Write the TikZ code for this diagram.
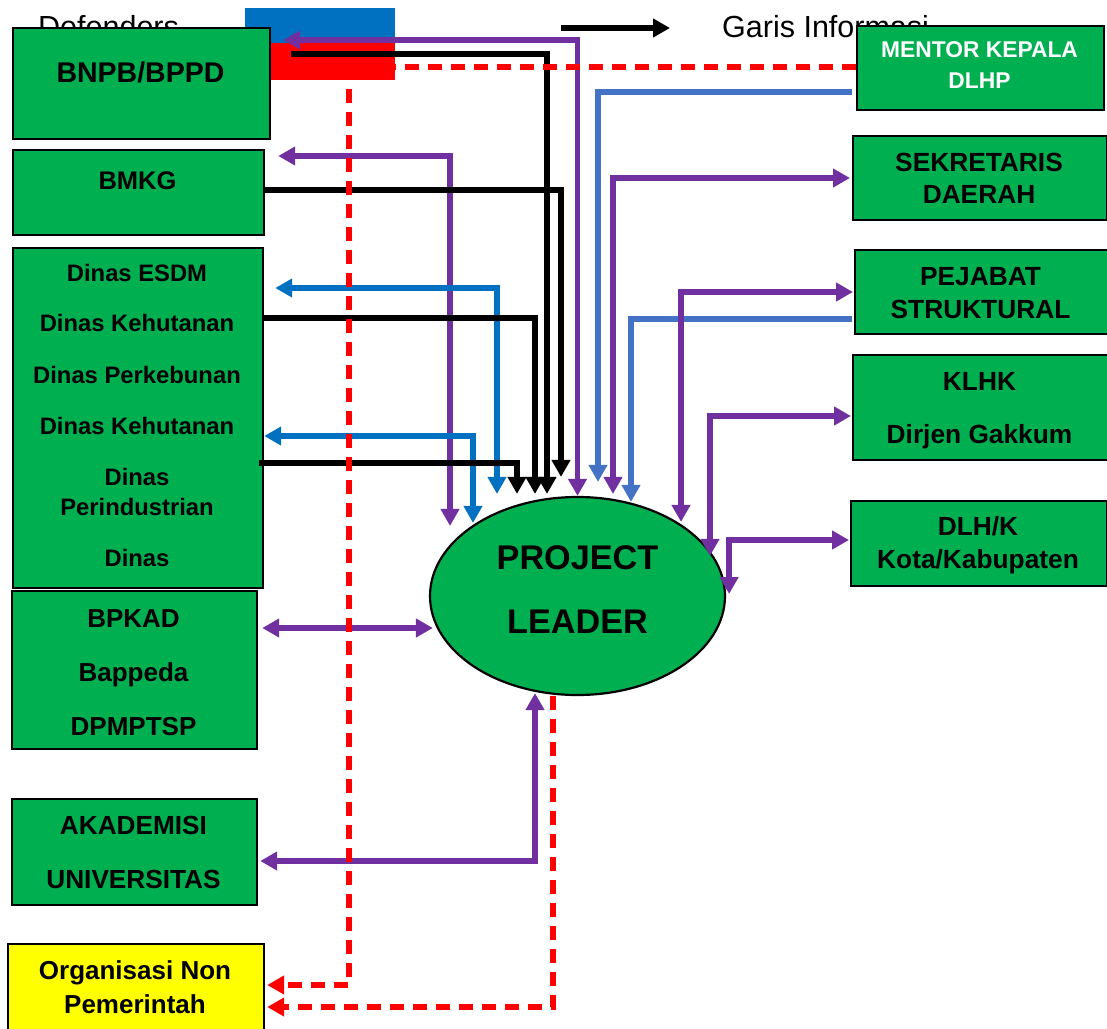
\documentclass[tikz,border=0pt]{standalone}
\usepackage{fontspec}
\setmainfont{Liberation Sans}
\usetikzlibrary{arrows.meta,shapes.geometric}
\definecolor{grn}{HTML}{00B050}
\definecolor{purp}{HTML}{7030A0}
\definecolor{blu}{HTML}{0070C0}
\definecolor{lblu}{HTML}{4472C4}
\definecolor{rd}{HTML}{FF0000}
\definecolor{ylw}{HTML}{FFFF00}
\begin{document}
\begin{tikzpicture}[x=1pt,y=-1pt,
  >={Triangle[length=17pt,width=18pt]},
  box/.style={draw=black,line width=2.2pt,fill=grn,inner sep=0pt,anchor=north west},
  lbl/.style={font=\bfseries\fontsize{#1}{#1}\selectfont,anchor=base,inner sep=0pt},
  plain/.style={font=\fontsize{30.5}{30.5}\selectfont,anchor=base west,inner sep=0pt},
  pline/.style={draw=purp,line width=5.5pt},
  kline/.style={draw=black,line width=5.5pt},
  bline/.style={draw=blu,line width=5.5pt},
  lbline/.style={draw=lblu,line width=5.5pt},
  rline/.style={draw=rd,line width=5.5pt,dash pattern=on 14pt off 9pt}]
\useasboundingbox (0,0) rectangle (1107,1028);

% legend
\node[plain] (defT) at (38,37) {Defenders};
\node[fill=blu,inner sep=0pt,minimum width=150pt,minimum height=35pt,anchor=north west] (legB) at (245,8) {};
\node[fill=rd,inner sep=0pt,minimum width=150pt,minimum height=37pt,anchor=north west] (legR) at (245,43) {};
\coordinate (legA1) at (561,28);
\coordinate (legA2) at (670,28);
\draw[kline,->] (legA1) -- (legA2);
\node[plain] (garisT) at (722,37) {Garis Informasi};

% left boxes
\node[box,minimum width=257pt,minimum height=111pt] (bnpb) at (12,27) {};
\node[lbl=28.5] (bnpbT) at (140.5,82) {BNPB/BPPD};
\node[box,minimum width=251pt,minimum height=85pt] (bmkg) at (12,149) {};
\node[lbl=25.5] (bmkgT) at (137.5,189) {BMKG};
\node[box,minimum width=250pt,minimum height=340pt] (dinas) at (12,247) {};
\node[lbl=23.8] (d1) at (137,281) {Dinas ESDM};
\node[lbl=23.8] (d2) at (137,331) {Dinas Kehutanan};
\node[lbl=23.8] (d3) at (137,383) {Dinas Perkebunan};
\node[lbl=23.8] (d4) at (137,434) {Dinas Kehutanan};
\node[lbl=23.8] (d5) at (137,485) {Dinas};
\node[lbl=23.8] (d6) at (137,515) {Perindustrian};
\node[lbl=23.8] (d7) at (137,566) {Dinas};
\node[box,minimum width=245pt,minimum height=158pt] (bpkad) at (11,590) {};
\node[lbl=26] (b1) at (133.5,627) {BPKAD};
\node[lbl=26] (b2) at (133.5,681) {Bappeda};
\node[lbl=26] (b3) at (133.5,735) {DPMPTSP};
\node[box,minimum width=245pt,minimum height=106pt] (akad) at (11,798) {};
\node[lbl=26.2] (a1) at (133.5,834) {AKADEMISI};
\node[lbl=26.2] (a2) at (133.5,888) {UNIVERSITAS};
\node[box,fill=ylw,minimum width=256pt,minimum height=86pt] (ong) at (7,943) {};
\node[lbl=26] (o1) at (135,979) {Organisasi Non};
\node[lbl=26] (o2) at (135,1013) {Pemerintah};

% right boxes
\node[box,minimum width=247pt,minimum height=84pt] (mentor) at (856,25) {};
\node[lbl=22.8,text=white] (m1) at (979.5,57) {MENTOR KEPALA};
\node[lbl=22.8,text=white] (m2) at (979.5,88) {DLHP};
\node[box,minimum width=254pt,minimum height=84pt] (sekr) at (852,135) {};
\node[lbl=26.3] (s1) at (979,171) {SEKRETARIS};
\node[lbl=26.3] (s2) at (979,203) {DAERAH};
\node[box,minimum width=253pt,minimum height=84pt] (pej) at (854,249) {};
\node[lbl=26.3] (p1) at (980.5,285) {PEJABAT};
\node[lbl=26.3] (p2) at (980.5,318) {STRUKTURAL};
\node[box,minimum width=255pt,minimum height=105pt] (klhk) at (852,354) {};
\node[lbl=26.3] (k1) at (979.5,390) {KLHK};
\node[lbl=26.3] (k2) at (979.5,443) {Dirjen Gakkum};
\node[box,minimum width=256pt,minimum height=85pt] (dlh) at (850,500) {};
\node[lbl=26.3] (l1) at (978,535) {DLH/K};
\node[lbl=26.3] (l2) at (978,568) {Kota/Kabupaten};

% project leader
\node[ellipse,draw=black,line width=2.2pt,fill=grn,inner sep=0pt,minimum width=295pt,minimum height=198pt] (pl) at (577.5,596) {};
\node[lbl=34.2] (plT1) at (577.5,569) {PROJECT};
\node[lbl=34.2] (plT2) at (577.5,633) {LEADER};

% connectors
\draw[pline,<->] ([xshift=12pt]bnpb.east |- 0,40) -| (pl.north);
\draw[pline,<->] ([xshift=13pt]bmkg.east |- 0,156) -| ([xshift=-127.5pt,yshift=-30pt]pl.north);
\draw[kline,->] ([xshift=20pt]bnpb.east |- 0,54) -| ([xshift=-30.5pt,yshift=2pt]pl.north);
\draw[kline,->] (bmkg.east |- 0,190) -| ([xshift=-16.5pt,yshift=19pt]pl.north);
\draw[bline,<->] ([xshift=11pt]dinas.east |- 0,288) -| ([xshift=-80.5pt,yshift=2pt]pl.north);
\draw[kline,->] (dinas.east |- 0,318) -| ([xshift=-42.5pt,yshift=2pt]pl.north);
\draw[bline,<->] (dinas.east |- 0,436) -| ([xshift=-104.5pt,yshift=-27pt]pl.north);
\draw[kline,->] ([xshift=-5pt]dinas.east |- 0,463) -| ([xshift=-60.5pt,yshift=2pt]pl.north);
\draw[lbline,->] ([xshift=-4pt]mentor.west |- 0,92) -| ([xshift=20.5pt,yshift=14pt]pl.north);
\draw[pline,<->] ([xshift=35.5pt,yshift=2pt]pl.north) |- ([xshift=-2pt]sekr.west |- 0,178);
\draw[lbline,->] ([xshift=-2pt]pej.west |- 0,319) -| ([xshift=53.5pt,yshift=-6pt]pl.north);
\draw[pline,<->] ([xshift=103.5pt,yshift=-26pt]pl.north) |- ([xshift=-1pt]pej.west |- 0,292);
\draw[pline,<->] ([xshift=132.5pt,yshift=-60pt]pl.north) |- ([xshift=-1pt]klhk.west |- 0,416);
\draw[pline,<->] ([xshift=3pt,yshift=2pt]pl.east) |- ([xshift=-1pt]dlh.west |- 0,540);
\draw[pline,<->] ([xshift=4pt]bpkad.east |- 0,628) -- ([xshift=4pt]pl.west |- 0,628);
\draw[pline,<->] ([xshift=2pt]akad.east |- 0,861) -| ([xshift=-42.5pt,yshift=3pt]pl.south);
\draw[rline,->] (mentor.west |- 0,67) -| (349,985) -- ([xshift=2pt]ong.east |- 0,985);
\draw[rline,->] ([xshift=-24.5pt]pl.south) |- ([xshift=2pt]ong.east |- 0,1007);
\end{tikzpicture}
\end{document}
